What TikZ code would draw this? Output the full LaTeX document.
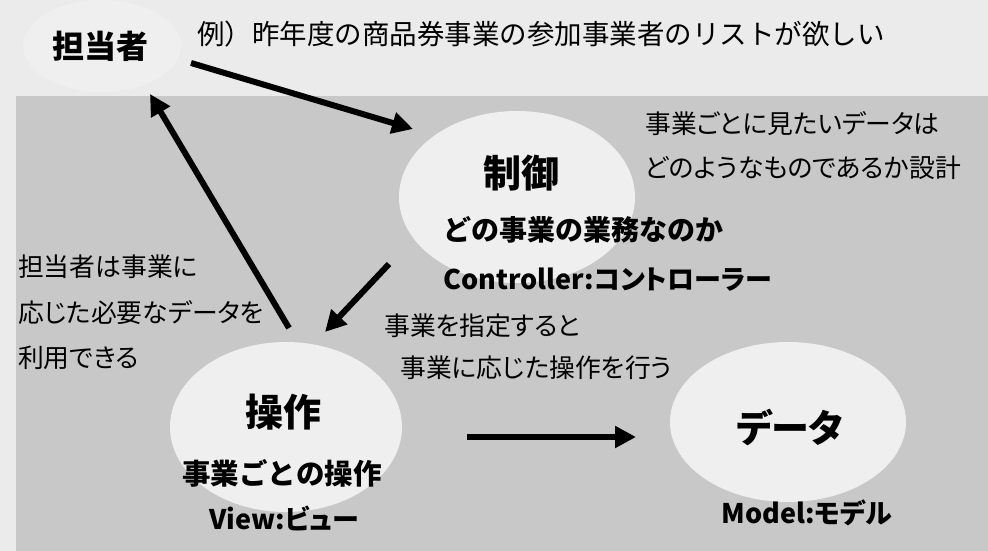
\documentclass[tikz,border=0pt]{standalone}
\usepackage{fontspec}
\setmainfont{Noto Sans CJK JP}
\newfontfamily\jpp{Noto Sans CJK JP}[RawFeature=+palt]
\usetikzlibrary{shapes.geometric,arrows.meta}
\definecolor{bglight}{HTML}{EBEBEB}
\definecolor{bgdark}{HTML}{C8C8C8}
\definecolor{ellfill}{HTML}{EFEFEF}
\tikzset{
  ell/.style={ellipse,fill=ellfill,draw=none,inner sep=0pt},
  body/.style={anchor=base west,inner sep=0pt,font=\jpp\fontsize{25.8}{30}\selectfont},
  topbody/.style={anchor=base west,inner sep=0pt,font=\fontsize{27.5}{32}\selectfont},
  bigtitle/.style={anchor=base,inner sep=0pt,font=\jpp\fontsize{38}{44}\bfseries\selectfont},
  midtitle/.style={anchor=base,inner sep=0pt,font=\jpp\fontsize{32}{38}\bfseries\selectfont},
  subtitle/.style={anchor=base,inner sep=0pt,font=\fontsize{28.5}{32}\bfseries\selectfont},
  subtitlep/.style={anchor=base,inner sep=0pt,font=\jpp\fontsize{27}{32}\bfseries\selectfont},
  subtitlew/.style={anchor=base west,inner sep=0pt,font=\fontsize{28}{32}\bfseries\selectfont},
  subtitlewp/.style={anchor=base west,inner sep=0pt,font=\jpp\fontsize{27}{32}\bfseries\selectfont},
  arr/.style={line width=6pt,-{Triangle[length=21pt,width=21pt]}},
}
\begin{document}
\begin{tikzpicture}[x=1pt,y=-1pt]
\fill[bglight] (0,0) rectangle (988,551);
\useasboundingbox (0,0) rectangle (988,551);
\fill[bgdark] (16,96) rectangle (988,551);
% ellipses
\node[ell,minimum width=158pt,minimum height=92pt] (tanto) at (102,46) {};
\node[ell,minimum width=236pt,minimum height=172pt] (seigyo) at (517,197) {};
\node[ell,minimum width=232pt,minimum height=170pt] (sousa) at (286,427) {};
\node[ell,minimum width=236pt,minimum height=160pt] (data) at (788,422) {};
% titles
\node[midtitle] (tantoT) at (100,59) {担当者};
\node[bigtitle] (seigyoT) at (521,187) {制御};
\node[subtitlew] (seigyoS) at (443,240) {どの事業の業務なのか};
\node[subtitlewp] (seigyoE) at (443,289) {Controller:コントローラー};
\node[bigtitle] (sousaT) at (283,426) {操作};
\node[subtitle] (sousaS) at (282,484) {事業ごとの操作};
\node[subtitlep] (sousaE) at (284,529) {View:ビュー};
\node[bigtitle] (dataT) at (790,442) {データ};
\node[subtitlep] (dataE) at (807,523) {Model:モデル};
% body texts
\node[topbody] (ex) at (197,45) {例）昨年度の商品券事業の参加事業者のリストが欲しい};
\node[body] (r1) at (645,133) {事業ごとに見たいデータは};
\node[body] (r2) at (645,177) {どのようなものであるか設計};
\node[body] (l1) at (18,276) {担当者は事業に};
\node[body] (l2) at (18,322) {応じた必要なデータを};
\node[body] (l3) at (18,367) {利用できる};
\node[body] (m1) at (384,335) {事業を指定すると};
\node[body] (m2) at (400,377) {事業に応じた操作を行う};
% connector endpoints
\coordinate (a1s) at (191,63);
\coordinate (a1e) at (413,129);
\coordinate (a2s) at (289,328);
\coordinate (a2e) at (150,94);
\coordinate (a3s) at (389,264);
\coordinate (a3e) at (325,332);
\coordinate (a4s) at (467,437);
\coordinate (a4e) at (636,437);
\draw[arr] (a1s) -- (a1e);
\draw[arr] (a2s) -- (a2e);
\draw[arr] (a3s) -- (a3e);
\draw[arr] (a4s) -- (a4e);
\end{tikzpicture}
\end{document}
